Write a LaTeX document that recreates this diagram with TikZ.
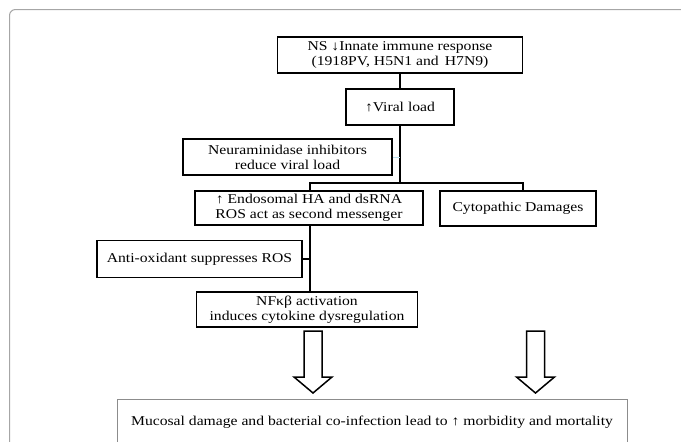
\documentclass[tikz,border=0pt]{standalone}
\usepackage{fontspec}
\setmainfont{Liberation Serif}[FakeStretch=1.16]

\tikzset{box/.style={draw,rectangle,align=center,inner sep=1pt,line width=1.5pt,
		font=\fontsize{13.5}{15}\selectfont},
	link/.style={line width=1.5pt},
	bigarrow/.style={line width=1.5pt,line join=miter}}

\begin{document}
\begin{tikzpicture}[x=1pt,y=-1pt]

\useasboundingbox (0,0) rectangle (681,442);
\draw[black!35,line width=1pt,rounded corners=6pt] (9.5,442) |- (681,9.5);

\node[box,minimum width=245,minimum height=36]   (ns)   at (400,55)    {NS ↓Innate immune response\\(1918PV, H5N1 and\, H7N9)};
	\node[box,minimum width=108,minimum height=36]   (viral) at (400,107)  {↑Viral load};
\node[box,minimum width=209,minimum height=36]   (neur) at (287.5,157)   {Neuraminidase inhibitors\\reduce viral load};
	\node[box,minimum width=228,minimum height=34]   (endo) at (309,208)    {↑ Endosomal HA and dsRNA\\ROS act as second messenger};
\node[box,minimum width=156,minimum height=35]   (cyto) at (518,208.5)   {Cytopathic Damages};
	\node[box,minimum width=205,minimum height=37]   (anti) at (199.5,259)   {Anti-oxidant suppresses ROS};
\node[box,minimum width=221,minimum height=35]   (nfkb) at (307,309.5)   {NFκβ activation\\induces cytokine dysregulation};
	\node[box,draw=black!45,line width=1pt,minimum width=510,minimum height=46]   (out) at (372,422)
		{Mucosal damage and bacterial co-infection lead to ↑ morbidity and mortality};

\coordinate (split) at (400,183);
\coordinate (a1) at (313,331);
\coordinate (a2) at (535.5,331);

\draw[link] (ns) -- (viral);
\draw[link] (viral) -- (split);
	\draw[link] (split) -| (endo.north -| 310,0);
	\draw[link] (split) -| (523,0 |- cyto.north);
\draw[black!25!cyan!30,line width=1pt] (neur.east) -- (neur.east -| split);
\draw[link] (endo.south -| 310,0) -- (nfkb.north -| 310,0);
	\draw[link] (anti.east) -- (anti.east -| 310,0);

\draw[bigarrow] (a1) ++(-9,0) -- ++(0,46) -- ++(-10,0) -- ++(19,16) -- ++(19,-16) -- ++(-10,0) -- ++(0,-46) -- cycle;
\draw[bigarrow] (a2) ++(-9,0) -- ++(0,46) -- ++(-10,0) -- ++(19,16) -- ++(19,-16) -- ++(-10,0) -- ++(0,-46) -- cycle;

	\end{tikzpicture}
\end{document}
